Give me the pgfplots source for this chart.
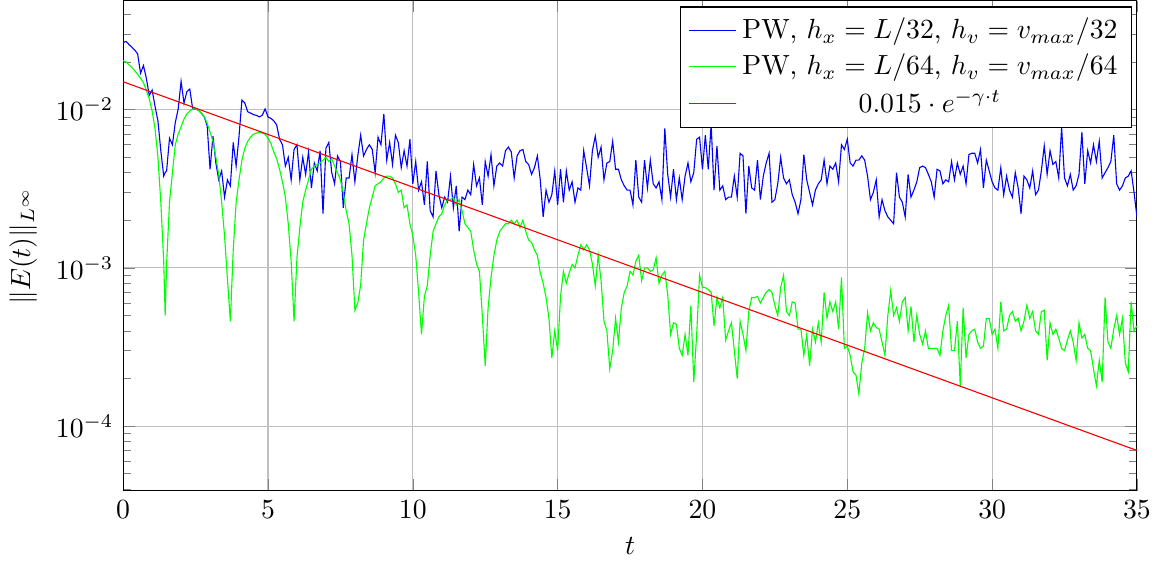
\documentclass[border=0pt]{standalone}
\usepackage{pgfplots}
\pgfplotsset{compat=1.18}
\usepackage{pgfplotstable}

% t, blue (h=L/32), green (h=L/64)
\pgfplotstableread{
t b g
0.0 0.0265 0.0204
0.1 0.0270 0.0200
0.2 0.0258 0.0192
0.3 0.0248 0.0185
0.4 0.0238 0.0176
0.5 0.0225 0.0167
0.6 0.0170 0.0158
0.7 0.0190 0.0148
0.8 0.0158 0.0133
0.9 0.0123 0.0117
1.0 0.0133 0.0098
1.1 0.0105 0.0076
1.2 0.0085 0.0050
1.3 0.0055 0.0026
1.4 0.0038 0.0011
1.45 0.0040 0.0005
1.5 0.0041 0.00106
1.6 0.0066 0.0026
1.7 0.0060 0.0040
1.8 0.0083 0.0060
1.9 0.0101 0.0070
2.0 0.0151 0.0078
2.1 0.0110 0.0087
2.2 0.0130 0.0094
2.3 0.0135 0.0098
2.4 0.0101 0.0101
2.5 0.0101 0.0101
2.6 0.0099 0.0099
2.7 0.0095 0.0095
2.8 0.0090 0.0090
2.9 0.0079 0.0082
3.0 0.0042 0.0072
3.1 0.0068 0.0063
3.2 0.0046 0.0050
3.3 0.0036 0.0039
3.4 0.0041 0.0026
3.5 0.0028 0.0016
3.6 0.0036 0.00085
3.7 0.0033 0.00046
3.8 0.0062 0.0013
3.9 0.0044 0.0026
4.0 0.0068 0.0036
4.1 0.0115 0.0048
4.2 0.0110 0.0057
4.3 0.0097 0.0063
4.4 0.0095 0.0067
4.5 0.0093 0.0070
4.6 0.0092 0.0071
4.7 0.0090 0.0072
4.8 0.0092 0.0071
4.9 0.0101 0.0070
5.0 0.0090 0.0066
5.1 0.0088 0.0061
5.2 0.0085 0.0054
5.3 0.0080 0.0049
5.4 0.0065 0.0042
5.5 0.0060 0.0035
5.6 0.0044 0.0028
5.7 0.0050 0.0019
5.8 0.0036 0.0011
5.9 0.0056 0.00046
6.0 0.0060 0.00116
6.1 0.0036 0.0018
6.2 0.0050 0.0026
6.3 0.0039 0.0031
6.4 0.0054 0.0036
6.5 0.0032 0.0042
6.6 0.0046 0.0044
6.7 0.0041 0.0045
6.8 0.0055 0.0046
6.9 0.0022 0.0048
7.0 0.0057 0.0050
7.1 0.0062 0.0047
7.2 0.0040 0.0049
7.3 0.0034 0.0044
7.4 0.0051 0.0040
7.5 0.0047 0.0036
7.6 0.0024 0.0030
7.7 0.0037 0.0023
7.8 0.0037 0.0019
7.9 0.0052 0.0012
8.0 0.0035 0.00054
8.1 0.0051 0.00060
8.2 0.0069 0.00078
8.3 0.0051 0.0015
8.4 0.0056 0.0019
8.5 0.0060 0.0024
8.6 0.0056 0.0028
8.7 0.0040 0.0033
8.8 0.0067 0.0034
8.9 0.0060 0.0035
9.0 0.0094 0.0037
9.1 0.0048 0.0038
9.2 0.0062 0.0038
9.3 0.0045 0.0037
9.4 0.0069 0.0034
9.5 0.0062 0.0030
9.6 0.0043 0.0031
9.7 0.0055 0.0024
9.8 0.0044 0.0025
9.9 0.0065 0.0019
10.0 0.0034 0.0016
10.1 0.0047 0.0012
10.2 0.0031 0.00070
10.3 0.0035 0.00038
10.4 0.0025 0.00066
10.5 0.0047 0.00077
10.6 0.0023 0.0012
10.7 0.0021 0.0017
10.8 0.0041 0.0019
10.9 0.0029 0.0021
11.0 0.0024 0.0022
11.1 0.0028 0.0025
11.2 0.0026 0.0027
11.3 0.0038 0.0027
11.4 0.0024 0.0028
11.5 0.0033 0.0025
11.6 0.0017 0.0027
11.7 0.0028 0.0023
11.8 0.0027 0.0019
11.9 0.0031 0.0018
12.0 0.0029 0.0017
12.1 0.0045 0.0013
12.2 0.0033 0.00106
12.3 0.0037 0.00095
12.4 0.0025 0.00050
12.5 0.0047 0.00024
12.6 0.0038 0.00056
12.7 0.0052 0.00087
12.8 0.0033 0.0012
12.9 0.0044 0.0015
13.0 0.0046 0.0017
13.1 0.0044 0.0018
13.2 0.0055 0.0019
13.3 0.0058 0.0019
13.4 0.0054 0.0020
13.5 0.0037 0.0019
13.6 0.0051 0.0020
13.7 0.0055 0.0018
13.8 0.0056 0.0020
13.9 0.0047 0.0017
14.0 0.0045 0.0015
14.1 0.0039 0.00145
14.2 0.0043 0.0013
14.3 0.0051 0.0012
14.4 0.0036 0.00093
14.5 0.0021 0.00080
14.6 0.0031 0.00065
14.7 0.0026 0.00048
14.8 0.0029 0.00027
14.9 0.0041 0.00040
15.0 0.0025 0.00030
15.1 0.0042 0.00066
15.2 0.0026 0.00095
15.3 0.0041 0.00080
15.4 0.0031 0.00093
15.5 0.0035 0.00105
15.6 0.0026 0.0010
15.7 0.0032 0.0012
15.8 0.0031 0.0014
15.9 0.0055 0.0013
16.0 0.0043 0.0014
16.1 0.0033 0.0013
16.2 0.0055 0.00106
16.3 0.0068 0.00077
16.4 0.0050 0.0012
16.5 0.0058 0.00083
16.6 0.0036 0.00046
16.7 0.0046 0.00040
16.8 0.0047 0.00023
16.9 0.0063 0.00030
17.0 0.0042 0.00048
17.1 0.0042 0.00034
17.2 0.0036 0.00056
17.3 0.0033 0.00070
17.4 0.0031 0.00077
17.5 0.0031 0.00095
17.6 0.0025 0.00090
17.7 0.0048 0.0011
17.8 0.0028 0.0012
17.9 0.0026 0.00083
18.0 0.0048 0.0010
18.1 0.0032 0.0010
18.2 0.0048 0.00095
18.3 0.0034 0.00097
18.4 0.0032 0.00116
18.5 0.0035 0.00080
18.6 0.0027 0.00090
18.7 0.0076 0.00095
18.8 0.0039 0.00068
18.9 0.0028 0.00038
19.0 0.0042 0.00045
19.1 0.0027 0.00044
19.2 0.0037 0.00031
19.3 0.0027 0.00028
19.4 0.0038 0.00038
19.5 0.0046 0.00028
19.6 0.0035 0.00058
19.7 0.0040 0.00019
19.8 0.0065 0.00038
19.9 0.0067 0.00090
20.0 0.0042 0.00075
20.1 0.0069 0.00075
20.2 0.0042 0.00073
20.3 0.0081 0.00070
20.4 0.0031 0.00043
20.5 0.0059 0.00065
20.6 0.0031 0.00056
20.7 0.0033 0.00065
20.8 0.0027 0.00035
20.9 0.0028 0.00040
21.0 0.0028 0.00045
21.1 0.0038 0.00030
21.2 0.0028 0.00020
21.3 0.0053 0.00046
21.4 0.0051 0.00038
21.5 0.0022 0.00030
21.6 0.0044 0.00053
21.7 0.0032 0.00065
21.8 0.0031 0.00065
21.9 0.0048 0.00066
22.0 0.0027 0.00060
22.1 0.0038 0.00065
22.2 0.0046 0.00070
22.3 0.0053 0.00073
22.4 0.0026 0.00070
22.5 0.0027 0.00058
22.6 0.0034 0.00050
22.7 0.0050 0.00075
22.8 0.0037 0.00090
22.9 0.0034 0.00053
23.0 0.0036 0.00050
23.1 0.0029 0.00061
23.2 0.0026 0.00060
23.3 0.0022 0.00041
23.4 0.0027 0.00041
23.5 0.0052 0.00028
23.6 0.0036 0.00038
23.7 0.0030 0.00024
23.8 0.0025 0.00041
23.9 0.0031 0.00034
24.0 0.0034 0.00045
24.1 0.0036 0.00034
24.2 0.0048 0.00070
24.3 0.0034 0.00048
24.4 0.0044 0.00061
24.5 0.0042 0.00053
24.6 0.0046 0.00061
24.7 0.0035 0.00041
24.8 0.0060 0.00087
24.9 0.0056 0.00031
25.0 0.0065 0.00032
25.1 0.0046 0.00028
25.2 0.0044 0.00022
25.3 0.0048 0.00021
25.4 0.0048 0.00016
25.5 0.0051 0.00025
25.6 0.0048 0.00031
25.7 0.0038 0.00052
25.8 0.0027 0.00040
25.9 0.0030 0.00045
26.0 0.0036 0.00042
26.1 0.0021 0.00041
26.2 0.0027 0.00034
26.3 0.0023 0.00028
26.4 0.0021 0.00050
26.5 0.0020 0.00072
26.6 0.0019 0.00050
26.7 0.0040 0.00056
26.8 0.0028 0.00046
26.9 0.0026 0.00061
27.0 0.0021 0.00065
27.1 0.0039 0.00040
27.2 0.0028 0.00057
27.3 0.0031 0.00034
27.4 0.0035 0.00050
27.5 0.0043 0.00038
27.6 0.0044 0.00033
27.7 0.0043 0.00040
27.8 0.0039 0.00031
27.9 0.0035 0.00031
28.0 0.0028 0.00031
28.1 0.0042 0.00031
28.2 0.0041 0.00028
28.3 0.0034 0.00040
28.4 0.0036 0.00050
28.5 0.0035 0.00058
28.6 0.0047 0.00030
28.7 0.0036 0.00030
28.8 0.0046 0.00046
28.9 0.0039 0.00018
29.0 0.0044 0.00056
29.1 0.0034 0.00027
29.2 0.0052 0.00038
29.3 0.0053 0.00040
29.4 0.0053 0.00041
29.5 0.0046 0.00034
29.6 0.0056 0.00031
29.7 0.0032 0.00032
29.8 0.0048 0.00048
29.9 0.0041 0.00048
30.0 0.0035 0.00038
30.1 0.0032 0.00041
30.2 0.0031 0.00031
30.3 0.0043 0.00061
30.4 0.0029 0.00040
30.5 0.0038 0.00041
30.6 0.0031 0.00050
30.7 0.0028 0.00053
30.8 0.0040 0.00046
30.9 0.0032 0.00048
31.0 0.0022 0.00040
31.1 0.0038 0.00046
31.2 0.0036 0.00058
31.3 0.0032 0.00048
31.4 0.0041 0.00053
31.5 0.0029 0.00040
31.6 0.0031 0.00038
31.7 0.0041 0.00053
31.8 0.0059 0.00054
31.9 0.0039 0.00026
32.0 0.0055 0.00045
32.1 0.0045 0.00038
32.2 0.0047 0.00041
32.3 0.0037 0.00036
32.4 0.0077 0.00031
32.5 0.0037 0.00030
32.6 0.0033 0.00035
32.7 0.0039 0.00040
32.8 0.0031 0.00034
32.9 0.0033 0.00026
33.0 0.0039 0.00045
33.1 0.0072 0.00036
33.2 0.0034 0.00038
33.3 0.0055 0.00031
33.4 0.0046 0.00030
33.5 0.0060 0.00023
33.6 0.0047 0.00018
33.7 0.0063 0.00026
33.8 0.0037 0.00019
33.9 0.0040 0.00065
34.0 0.0043 0.00034
34.1 0.0047 0.00031
34.2 0.0069 0.00041
34.3 0.0034 0.00050
34.4 0.0031 0.00038
34.5 0.0033 0.00048
34.6 0.0037 0.00025
34.7 0.0038 0.00022
34.8 0.0041 0.00061
34.9 0.0030 0.00040
35.0 0.0021 0.00043
}\errdata

\begin{document}
\begin{tikzpicture}
\begin{semilogyaxis}[
    width=366pt,
    height=177pt,
    scale only axis,
    xmin=0, xmax=35,
    ymin=3.9e-5, ymax=4.89e-2,
    xtick={0,5,...,35},
    grid=major,
    xlabel={$t$},
    ylabel={$\|E(t)\|_{L^\infty}$},
    legend cell align=center,
    legend style={at={(0.995,0.988)}, anchor=north east},
]
\addplot[blue, no marks] table[x=t, y=b] {\errdata};
\addplot[green, no marks] table[x=t, y=g] {\errdata};
% 0.015*exp(-0.1533 t), straight on the log axis
\addplot[red, no marks] coordinates {(0,0.015) (35,7.02e-5)};
\legend{{PW, $h_x=L/32$, $h_v=v_{max}/32$},
        {PW, $h_x=L/64$, $h_v=v_{max}/64$},
        {$0.015\cdot e^{-\gamma\cdot t}$}}
\end{semilogyaxis}
\end{tikzpicture}
\end{document}
